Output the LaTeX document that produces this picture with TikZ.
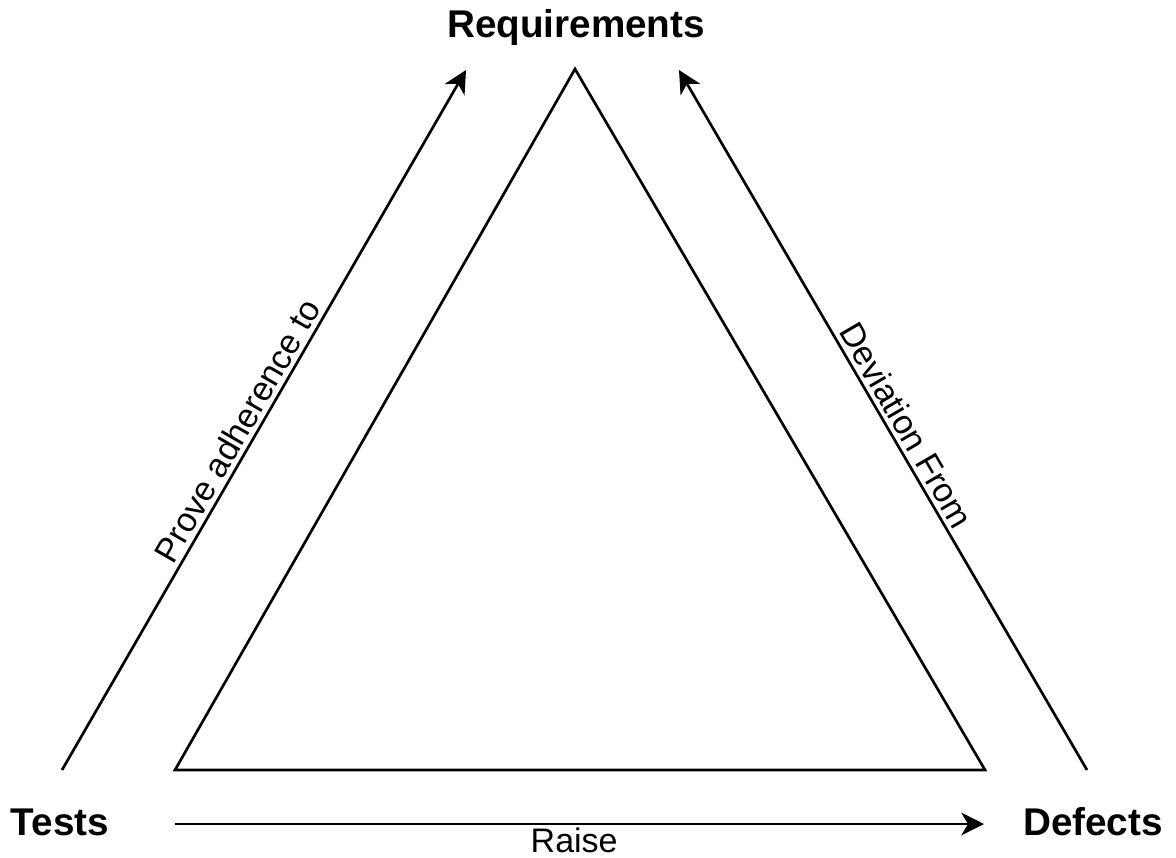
\documentclass[tikz,border=0pt]{standalone}
\usepackage{fontspec}
\setmainfont{Liberation Sans}
\usetikzlibrary{arrows.meta}
\begin{document}
\begin{tikzpicture}[x=0.75pt,y=-0.75pt,
  line/.style={line width=2pt, line join=miter},
  flow/.style={line width=2pt, -{Stealth[length=17pt,width=17pt,inset=5pt]}},
  corner/.style={font=\fontsize{29}{31}\selectfont\bfseries, inner sep=0pt},
  label/.style={font=\fontsize{25.5}{27}\selectfont, inner sep=3pt}]
  \useasboundingbox[fill=white] (0,0) rectangle (1176,857);

  % corner captions
  \node[corner] (req) at (576,28) {Requirements};
  \node[corner] (tests) at (60,822) {Tests};
  \node[corner] (defects) at (1093,822) {Defects};

  % central triangle
  \coordinate (apex) at (575,69);
  \coordinate (bl) at (175,770);
  \coordinate (br) at (985,770);
  \draw[line] (apex) -- (bl) -- (br) -- cycle;

  % arrow end points
  \coordinate (ltail) at (62,770);
  \coordinate (lhead) at (466,70);
  \coordinate (rtail) at (1087,770);
  \coordinate (rhead) at (679,70);
  \coordinate (btail) at (175,824);
  \coordinate (bhead) at (984,824);

  \draw[flow] (ltail) -- node[label, sloped, above, pos=0.472] {Prove adherence to} (lhead);
  \draw[flow] (rtail) -- node[label, sloped, above, pos=0.48] {Deviation From} (rhead);
  \draw[flow] (btail) -- node[label, below, inner sep=2pt, text depth=0pt, xshift=-4pt] {Raise} (bhead);
\end{tikzpicture}
\end{document}
